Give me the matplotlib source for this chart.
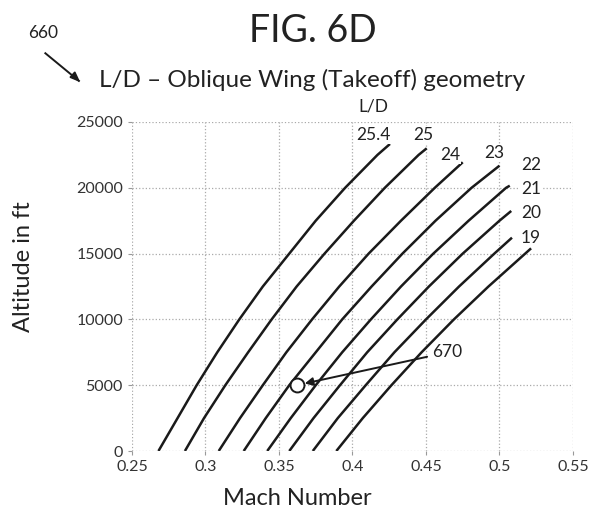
import numpy as np
import matplotlib.pyplot as plt

plt.rcParams['font.family'] = ['Lato', 'DejaVu Sans']

# L/D-kurver: Mach-tall avlest fra figuren ved gitte hoyder (ft)
ld_labels = ['25.4', '25', '24', '23', '22', '21', '20', '19']

alt_254 = [0, 2500, 5000, 7500, 10000, 12500, 15000, 17500, 20000, 22500, 23330]
mach_254 = [0.268, 0.281, 0.294, 0.308, 0.323, 0.339, 0.357, 0.375, 0.395, 0.417, 0.4255]
alt_25 = [0, 2500, 5000, 7500, 10000, 12500, 15000, 17500, 20000, 22500, 23000]
mach_25 = [0.286, 0.299, 0.3135, 0.329, 0.345, 0.362, 0.381, 0.401, 0.422, 0.445, 0.4505]
alt_24 = [0, 2500, 5000, 7500, 10000, 12500, 15000, 17500, 20000, 21940]
mach_24 = [0.309, 0.3235, 0.339, 0.355, 0.3725, 0.391, 0.411, 0.433, 0.456, 0.475]
alt_23 = [0, 2500, 5000, 7500, 10000, 12500, 15000, 17500, 20000, 21680]
mach_23 = [0.326, 0.341, 0.357, 0.375, 0.393, 0.413, 0.434, 0.4565, 0.481, 0.500]
alt_22 = [0, 2500, 5000, 7500, 10000, 12500, 15000, 17500, 20000, 20160]
mach_22 = [0.342, 0.358, 0.375, 0.393, 0.4125, 0.433, 0.455, 0.479, 0.5045, 0.507]
alt_21 = [0, 2500, 5000, 7500, 10000, 12500, 15000, 17500, 18240]
mach_21 = [0.357, 0.3735, 0.3915, 0.410, 0.4305, 0.452, 0.475, 0.500, 0.508]
alt_20 = [0, 2500, 5000, 7500, 10000, 12500, 15000, 16210]
mach_20 = [0.373, 0.390, 0.409, 0.4285, 0.450, 0.4725, 0.4965, 0.5085]
alt_19 = [0, 2500, 5000, 7500, 10000, 12500, 15000, 15400]
mach_19 = [0.389, 0.407, 0.4265, 0.447, 0.469, 0.4925, 0.5175, 0.5215]

curves = [(mach_254, alt_254), (mach_25, alt_25), (mach_24, alt_24), (mach_23, alt_23),
          (mach_22, alt_22), (mach_21, alt_21), (mach_20, alt_20), (mach_19, alt_19)]

# plassering av tallene ved kurvene
label_x = [0.4144, 0.4485, 0.4662, 0.4962, 0.5215, 0.5215, 0.5215, 0.5215]
label_y = [24010, 24010, 22490, 22640, 21730, 19910, 18090, 16190]

# driftspunkt 670
point_mach = 0.362
point_alt = 5000

fig = plt.figure(figsize=(5.89, 5.22), dpi=100)
ax = fig.add_axes([0.2241, 0.136, 0.7487, 0.6303])

for m, a in curves:
    ax.plot(m, a, color='#1a1a1a', linewidth=1.8, solid_capstyle='butt', zorder=3)

for lab, x, y in zip(ld_labels, label_x, label_y):
    ax.text(x, y, lab, fontsize=12.5, ha='center', va='center', color='#222222', zorder=4,
            bbox=dict(facecolor='white', edgecolor='none', pad=1.0))
ax.text(0.414, 26150, 'L/D', fontsize=12.5, ha='center', va='center', color='#222222',
        clip_on=False, zorder=4, bbox=dict(facecolor='white', edgecolor='none', pad=1.5))

ax.plot(point_mach, point_alt, 'o', markersize=10, markerfacecolor='white',
        markeredgecolor='#1a1a1a', markeredgewidth=1.4, zorder=5)
ax.annotate('670', xy=(0.3675, 5130), xytext=(0.4545, 7500), fontsize=12.5,
            ha='left', va='center', color='#222222', zorder=6,
            arrowprops=dict(arrowstyle='-|>', color='#1a1a1a', lw=1.4,
                            mutation_scale=12, shrinkA=2, shrinkB=0))

ax.set_xlim(0.25, 0.55)
ax.set_ylim(0, 25000)
ax.set_xticks(np.arange(0.25, 0.551, 0.05))
ax.set_xticklabels(['0.25', '0.3', '0.35', '0.4', '0.45', '0.5', '0.55'])
ax.set_yticks(np.arange(0, 25001, 5000))
ax.tick_params(labelsize=11.5, colors='#999999', labelcolor='#333333', length=3, width=0.8)
ax.grid(True, color='#aaaaaa', linestyle=':', linewidth=0.9, zorder=0)
for s in ax.spines.values():
    s.set_visible(False)
ax.set_axisbelow(True)

ax.set_xlabel('Mach Number', fontsize=17, color='#222222')
ax.set_ylabel('Altitude in ft', fontsize=17, color='#222222')
ax.xaxis.set_label_coords(0.374, -0.113)
ax.yaxis.set_label_coords(-0.222, 0.559)

fig.text(0.531, 0.94, 'FIG. 6D', fontsize=27, ha='center', va='center', color='#222222')
fig.text(0.530, 0.846, 'L/D \u2013 Oblique Wing (Takeoff) geometry', fontsize=17.5,
         ha='center', va='center', color='#222222')
fig.text(0.073, 0.937, '660', fontsize=12.5, ha='center', va='center', color='#222222')
fig.add_artist(plt.Line2D([0.077, 0.134], [0.898, 0.845], color='#1a1a1a', lw=1.4))
fig.patches.append(plt.Polygon([[0.134, 0.845], [0.119, 0.852], [0.127, 0.862]],
                               closed=True, color='#1a1a1a', transform=fig.transFigure))

fig.savefig('out.png', dpi=100)
